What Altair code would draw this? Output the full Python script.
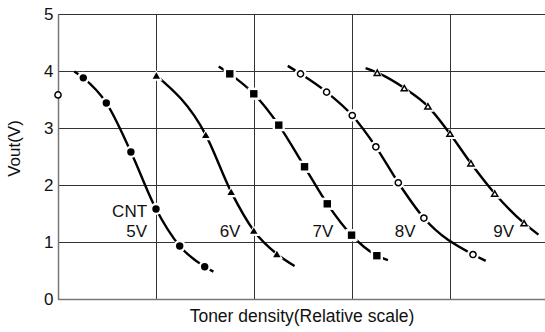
import altair as alt
import pandas as pd

FONT = "Liberation Sans"

# ---- data ----
series_names = ["5V", "6V", "7V", "8V", "9V"]
marker_shapes = ["circle", "triangle-up", "square", "circle", "triangle-up"]
marker_filled = [True, True, True, False, False]

mk_x = {
    "5V": [0.258, 0.493, 0.744, 1.000, 1.242, 1.497],
    "6V": [1.004, 1.508, 1.767, 1.998, 2.234],
    "7V": [1.753, 1.998, 2.253, 2.516, 2.748, 2.996, 3.254],
    "8V": [2.475, 2.741, 3.003, 3.244, 3.473, 3.734, 4.235],
    "9V": [3.258, 3.534, 3.775, 4.000, 4.214, 4.457, 4.756],
}
mk_y = {
    "5V": [3.88, 3.44, 2.58, 1.58, 0.93, 0.566],
    "6V": [3.92, 2.88, 1.88, 1.20, 0.79],
    "7V": [3.95, 3.60, 3.05, 2.32, 1.67, 1.12, 0.76],
    "8V": [3.95, 3.63, 3.22, 2.67, 2.04, 1.42, 0.78],
    "9V": [3.97, 3.70, 3.38, 2.90, 2.38, 1.85, 1.33],
}
# curve end points (beyond the first/last markers)
line_start = {"5V": (0.166, 3.99), "6V": None, "7V": (1.640, 4.08),
              "8V": (2.345, 4.09), "9V": (3.139, 4.05)}
line_end = {"5V": (1.586, 0.48), "6V": (2.414, 0.58), "7V": (3.367, 0.68),
            "8V": (4.365, 0.67), "9V": (4.903, 1.13)}

# lone open circle on the y axis
lone_x = [0.0]
lone_y = [3.58]

label_text = ["CNT", "5V", "6V", "7V", "8V", "9V"]
label_x = [0.909, 0.909, 1.862, 2.809, 3.650, 4.654]
label_y = [1.52, 1.18, 1.18, 1.18, 1.18, 1.18]

y_ticks = [0, 1, 2, 3, 4, 5]
x_grid = [0, 1, 2, 3, 4]

# ---- tables ----
line_rows = []
for s in series_names:
    pts = []
    if line_start[s] is not None:
        pts.append(line_start[s])
    pts += list(zip(mk_x[s], mk_y[s]))
    pts.append(line_end[s])
    for i, (x, y) in enumerate(pts):
        line_rows.append({"series": s, "x": x, "y": y, "o": i})
lines_df = pd.DataFrame(line_rows)

mk_rows = []
for s, shp, f in zip(series_names, marker_shapes, marker_filled):
    for x, y in zip(mk_x[s], mk_y[s]):
        mk_rows.append({"series": s, "x": x, "y": y, "shape": shp, "filled": f})
for x, y in zip(lone_x, lone_y):
    mk_rows.append({"series": "lone", "x": x, "y": y, "shape": "circle", "filled": False})
mk_df = pd.DataFrame(mk_rows)

lab_df = pd.DataFrame({"t": label_text, "x": label_x, "y": label_y})

xs = alt.Scale(domain=[0, 4.97], nice=False, zero=False)
ys = alt.Scale(domain=[0, 5], nice=False)

X = alt.X("x:Q", scale=xs,
          axis=alt.Axis(values=x_grid, labels=False, ticks=False,
                        grid=True, gridColor="#333", gridWidth=1,
                        domain=True, domainColor="#777", domainWidth=1.5,
                        title="Toner density(Relative scale)",
                        titleFont=FONT, titleFontSize=17.5, titleFontWeight="normal",
                        titleColor="#111", titlePadding=8))
Y = alt.Y("y:Q", scale=ys,
          axis=alt.Axis(values=y_ticks, ticks=False, labelPadding=5, format="d",
                        labelFont=FONT, labelFontSize=17, labelColor="#111",
                        grid=True, gridColor="#333", gridWidth=1,
                        domain=True, domainColor="#777", domainWidth=1.5,
                        title="Vout(V)", titleFont=FONT, titleFontSize=17,
                        titleFontWeight="normal", titleColor="#111",
                        titleX=-44, titleY=134, titleAngle=270,
                        titleAlign="center", titleBaseline="middle"))

base_lines = alt.Chart(lines_df).mark_line(
    color="black", strokeWidth=2.4, interpolate="monotone"
).encode(x=X, y=Y, detail="series:N", order="o:Q")

halo = alt.Chart(mk_df).transform_filter("datum.series != 'lone'").mark_point(
    filled=True, color="white", size=150, opacity=1
).encode(x="x:Q", y="y:Q", shape=alt.Shape("shape:N", scale=None))

filled_mk = alt.Chart(mk_df).transform_filter("datum.filled").mark_point(
    filled=True, color="black", size=55, opacity=1
).encode(x="x:Q", y="y:Q", shape=alt.Shape("shape:N", scale=None))

open_mk = alt.Chart(mk_df).transform_filter("!datum.filled").mark_point(
    filled=False, fill="white", fillOpacity=1, stroke="black", strokeWidth=1.5,
    size=38, opacity=1
).encode(x="x:Q", y="y:Q", shape=alt.Shape("shape:N", scale=None))

labels = alt.Chart(lab_df).mark_text(
    align="right", baseline="middle", font=FONT, fontSize=17, color="#111"
).encode(x="x:Q", y="y:Q", text="t:N")

chart = alt.layer(base_lines, halo, filled_mk, open_mk, labels).properties(
    width=487, height=285,
    padding={"left": 58, "top": 14, "right": 0, "bottom": 33},
    autosize=alt.AutoSizeParams(type="none"),
).configure_view(stroke=None).configure(background="white")

chart.save("out.html", embed_options={"renderer": "svg", "actions": False})
